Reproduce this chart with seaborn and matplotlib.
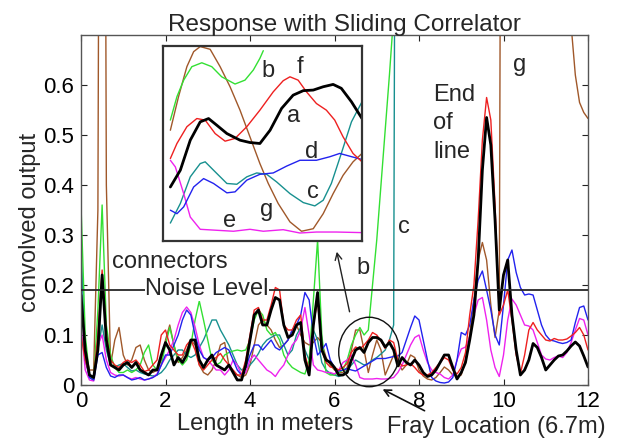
import matplotlib
matplotlib.use("Agg")
import matplotlib.pyplot as plt
import seaborn as sns
from matplotlib.patches import Ellipse

# ---------------- main chart data (convolved output vs length) ----------------
length_m = [round(0.1 * i, 1) for i in range(121)]

trace_a = [0.18, 0.07, 0.02, 0.015, 0.07, 0.22, 0.09, 0.04, 0.035, 0.03,
           0.04, 0.045, 0.035, 0.045, 0.03, 0.025, 0.02, 0.03, 0.03, 0.06,
           0.085, 0.07, 0.04, 0.055, 0.045, 0.06, 0.09, 0.09, 0.05, 0.035,
           0.05, 0.06, 0.04, 0.035, 0.03, 0.04, 0.025, 0.01, 0.01, 0.04,
           0.09, 0.14, 0.15, 0.12, 0.12, 0.15, 0.175, 0.17, 0.12, 0.095,
           0.1, 0.12, 0.125, 0.05, 0.02, 0.12, 0.185, 0.07, 0.05, 0.045,
           0.035, 0.02, 0.02, 0.025, 0.05, 0.07, 0.075, 0.065, 0.085, 0.095,
           0.095, 0.09, 0.076, 0.085, 0.07, 0.038, 0.055, 0.045, 0.04, 0.05,
           0.04, 0.025, 0.017, 0.02, 0.03, 0.045, 0.06, 0.06, 0.035, 0.012,
           0.025, 0.045, 0.09, 0.14, 0.25, 0.43, 0.535, 0.48, 0.33, 0.15,
           0.22, 0.25, 0.14, 0.07, 0.02, 0.03, 0.05, 0.083, 0.075, 0.055,
           0.03, 0.04, 0.05, 0.058, 0.06, 0.068, 0.078, 0.086, 0.078, 0.058,
           0.036]

trace_f = [0.1, 0.05, 0.02, 0.015, 0.1, 0.23, 0.1, 0.05, 0.04, 0.035,
           0.045, 0.05, 0.045, 0.05, 0.04, 0.027, 0.03, 0.04, 0.05, 0.1,
           0.11, 0.08, 0.07, 0.06, 0.06, 0.08, 0.09, 0.07, 0.04, 0.03,
           0.04, 0.05, 0.055, 0.063, 0.05, 0.04, 0.03, 0.02, 0.02, 0.05,
           0.1, 0.15, 0.155, 0.13, 0.13, 0.16, 0.195, 0.19, 0.12, 0.11,
           0.11, 0.13, 0.14, 0.06, 0.03, 0.12, 0.17, 0.07, 0.045, 0.036,
           0.035, 0.03, 0.035, 0.043, 0.065, 0.076, 0.072, 0.08, 0.09, 0.105,
           0.1, 0.088, 0.073, 0.09, 0.085, 0.05, 0.038, 0.04, 0.043, 0.035,
           0.025, 0.02, 0.02, 0.025, 0.035, 0.045, 0.055, 0.05, 0.03, 0.022,
           0.035, 0.065, 0.14, 0.2, 0.33, 0.49, 0.575, 0.53, 0.36, 0.14,
           0.16, 0.19, 0.13, 0.06, 0.023, 0.06, 0.11, 0.125, 0.11, 0.1,
           0.09, 0.088, 0.093, 0.09, 0.09, 0.092, 0.098, 0.105, 0.115, 0.1,
           0.07]

trace_d = [0.2, 0.05, 0.015, 0.01, 0.06, 0.065, 0.035, 0.018, 0.015, 0.02,
           0.02, 0.015, 0.01, 0.012, 0.015, 0.01, 0.012, 0.015, 0.02, 0.04,
           0.06, 0.06, 0.08, 0.1, 0.13, 0.15, 0.14, 0.1, 0.07, 0.055,
           0.05, 0.055, 0.065, 0.07, 0.075, 0.07, 0.05, 0.03, 0.02, 0.035,
           0.06, 0.08, 0.08, 0.07, 0.08, 0.09, 0.075, 0.07, 0.08, 0.09,
           0.11, 0.12, 0.14, 0.185, 0.17, 0.1, 0.06, 0.07, 0.083, 0.05,
           0.035, 0.028, 0.03, 0.033, 0.03, 0.028, 0.033, 0.038, 0.043, 0.048,
           0.053, 0.053, 0.053, 0.055, 0.057, 0.058, 0.065, 0.09, 0.115, 0.138,
           0.13, 0.09, 0.05, 0.015, 0.008, 0.005, 0.004, 0.006, 0.015, 0.05,
           0.105, 0.1, 0.12, 0.17, 0.21, 0.228, 0.19, 0.15, 0.1, 0.08,
           0.16, 0.25, 0.27, 0.225, 0.195, 0.18, 0.182, 0.18, 0.15, 0.12,
           0.1, 0.09, 0.088, 0.085, 0.083, 0.085, 0.09, 0.125, 0.155, 0.158,
           0.13]

trace_e = [0.12, 0.03, 0.01, 0.008, 0.08, 0.1, 0.05, 0.025, 0.02, 0.018,
           0.02, 0.015, 0.012, 0.015, 0.012, 0.01, 0.012, 0.015, 0.022, 0.04,
           0.055, 0.07, 0.09, 0.12, 0.145, 0.156, 0.145, 0.116, 0.08, 0.055,
           0.05, 0.04, 0.03, 0.03, 0.02, 0.03, 0.05, 0.04, 0.02, 0.025,
           0.05, 0.06, 0.05, 0.04, 0.03, 0.025, 0.017, 0.03, 0.04, 0.06,
           0.08, 0.09, 0.11, 0.155, 0.1, 0.04, 0.03, 0.028, 0.025, 0.025,
           0.022, 0.03, 0.045, 0.05, 0.06, 0.04, 0.015, 0.012, 0.012, 0.012,
           0.013, 0.012, 0.012, 0.013, 0.015, 0.025, 0.04, 0.06, 0.08, 0.095,
           0.1, 0.07, 0.045, 0.03, 0.025, 0.022, 0.015, 0.012, 0.02, 0.05,
           0.072, 0.076, 0.096, 0.14, 0.17, 0.175, 0.13, 0.07, 0.035, 0.017,
           0.06, 0.13, 0.172, 0.16, 0.14, 0.12, 0.118, 0.11, 0.085, 0.06,
           0.052, 0.05, 0.055, 0.058, 0.055, 0.065, 0.085, 0.11, 0.133, 0.13,
           0.1]

trace_c = [0.28, 0.06, 0.015, 0.01, 0.07, 0.12, 0.07, 0.04, 0.036, 0.04,
           0.043, 0.035, 0.028, 0.03, 0.025, 0.022, 0.02, 0.018, 0.02, 0.025,
           0.035, 0.05, 0.06, 0.07, 0.07, 0.06, 0.055, 0.06, 0.075, 0.09,
           0.11, 0.13, 0.13, 0.11, 0.095, 0.08, 0.06, 0.04, 0.03, 0.035,
           0.04, 0.05, 0.063, 0.08, 0.09, 0.095, 0.1, 0.1, 0.08, 0.06,
           0.07, 0.1, 0.115, 0.07, 0.05, 0.11, 0.09, 0.045, 0.03, 0.023,
           0.02, 0.017, 0.02, 0.03, 0.04, 0.05, 0.045, 0.04, 0.043, 0.05,
           0.055, 0.062, 0.07, 0.09, 0.12, 3.0, 3.0, 3.0, 3.0, 3.0,
           3.0, 3.0, 3.0, 3.0, 3.0, 3.0, 3.0, 3.0, 3.0, 3.0,
           3.0, 3.0, 3.0, 3.0, 3.0, 3.0, 3.0, 3.0, 3.0, 3.0,
           3.0, 3.0, 3.0, 3.0, 3.0, 3.0, 3.0, 3.0, 3.0, 3.0,
           3.0, 3.0, 3.0, 3.0, 3.0, 3.0, 3.0, 3.0, 3.0, 3.0,
           3.0]

trace_b = [0.36, 0.1, 0.02, 0.01, 0.15, 0.36, 0.12, 0.06, 0.035, 0.025,
           0.025, 0.03, 0.025, 0.03, 0.04, 0.065, 0.08, 0.04, 0.03, 0.04,
           0.08, 0.115, 0.08, 0.05, 0.04, 0.05, 0.08, 0.13, 0.168, 0.13,
           0.09, 0.05, 0.04, 0.045, 0.06, 0.065, 0.068, 0.07, 0.068, 0.07,
           0.09, 0.13, 0.15, 0.14, 0.11, 0.1, 0.105, 0.09, 0.06, 0.045,
           0.035, 0.03, 0.025, 0.022, 0.05, 0.17, 0.29, 0.1, 0.025, 0.02,
           0.02, 0.025, 0.03, 0.05, 0.08, 0.1, 0.115, 0.1, 0.11, 0.2,
           0.29, 0.4, 0.51, 0.62, 0.74, 3.0, 3.0, 3.0, 3.0, 3.0,
           3.0, 3.0, 3.0, 3.0, 3.0, 3.0, 3.0, 3.0, 3.0, 3.0,
           3.0, 3.0, 3.0, 3.0, 3.0, 3.0, 3.0, 3.0, 3.0, 3.0,
           3.0, 3.0, 3.0, 3.0, 3.0, 3.0, 3.0, 3.0, 3.0, 3.0,
           3.0, 3.0, 3.0, 3.0, 3.0, 3.0, 3.0, 3.0, 3.0, 3.0,
           3.0]

trace_g = [0.1, 0.065, 0.03, 0.03, 0.35, 3.0, 0.4, 0.04, 0.09, 0.115,
           0.06, 0.04, 0.05, 0.075, 0.08, 0.05, 0.03, 0.025, 0.03, 0.05,
           0.09, 0.12, 0.08, 0.045, 0.055, 0.07, 0.09, 0.08, 0.04, 0.025,
           0.02, 0.03, 0.05, 0.08, 0.085, 0.04, 0.025, 0.02, 0.015, 0.02,
           0.04, 0.08, 0.12, 0.13, 0.12, 0.11, 0.09, 0.075, 0.08, 0.09,
           0.11, 0.12, 0.1, 0.085, 0.08, 0.085, 0.095, 0.085, 0.055, 0.04,
           0.03, 0.025, 0.025, 0.035, 0.07, 0.11, 0.11, 0.07, 0.025, 0.06,
           0.09, 0.07, 0.02, 0.04, 0.06, 0.045, 0.03, 0.04, 0.06, 0.055,
           0.03, 0.018, 0.012, 0.01, 0.015, 0.025, 0.036, 0.03, 0.02, 0.017,
           0.02, 0.05, 0.1, 0.17, 0.25, 0.285, 0.25, 0.16, 0.095, 0.15,
           3.0, 3.0, 3.0, 3.0, 3.0, 3.0, 3.0, 3.0, 3.0, 3.0,
           3.0, 3.0, 3.0, 3.0, 3.0, 3.0, 0.72, 0.62, 0.565, 0.545,
           0.533]

noise_level = 0.19
x_ticks = [0, 2, 4, 6, 8, 10, 12]
y_ticks = [0, 0.1, 0.2, 0.3, 0.4, 0.5, 0.6]
y_tick_labels = ["0", "0.1", "0.2", "0.3", "0.4", "0.5", "0.6"]

# ---------------- inset data (zoom of the fray region, relative units) ----------------
in_b_x = [3.7, 7.0, 10.4, 14.5, 19.5, 24.5, 29.5, 36.2, 41.2, 45.4, 48.7, 50.4]
in_b_y = [62.0, 74.0, 82.5, 89.4, 91.4, 89.4, 84.2, 80.5, 82.5, 87.7, 93.7, 97.6]
in_g_x = [3.7, 7.8, 12.0, 15.4, 18.7, 23.7, 28.7, 33.7, 38.7, 43.7, 48.7, 52.9,
          57.9, 63.8, 69.6, 75.5, 80.5, 85.5, 90.5, 95.5, 100]
in_g_y = [56.8, 74.0, 89.4, 97.1, 99.7, 98.3, 89.4, 79.1, 67.1, 53.4, 39.7, 29.5,
          19.2, 9.8, 5.0, 6.3, 14.0, 24.3, 33.7, 40.6, 44.9]
in_f_x = [3.7, 7.0, 12.0, 17.0, 21.2, 26.2, 31.2, 36.2, 42.1, 48.7, 55.4, 60.4,
          63.8, 67.9, 72.1, 77.1, 82.1, 86.3, 90.5, 95.5, 100]
in_f_y = [42.3, 50.0, 58.6, 62.8, 62.0, 55.1, 51.2, 52.6, 58.6, 67.1, 76.5, 82.2,
          84.2, 82.5, 76.5, 70.5, 67.1, 62.0, 53.4, 44.9, 40.6]
in_a_x = [3.7, 8.7, 13.7, 18.7, 22.9, 27.0, 32.1, 38.7, 43.7, 48.7, 53.8, 59.6,
          65.4, 70.5, 75.5, 80.5, 85.5, 89.6, 94.7, 100]
in_a_y = [27.7, 36.3, 51.7, 61.1, 62.8, 59.4, 55.1, 51.7, 50.5, 50.0, 56.8, 68.0,
          74.8, 77.1, 77.4, 79.1, 80.3, 78.3, 71.4, 62.8]
in_c_x = [3.7, 8.7, 13.7, 18.7, 21.2, 25.4, 32.1, 37.1, 42.1, 47.1, 52.1, 57.1,
          63.8, 70.5, 76.3, 80.5, 84.6, 89.6, 94.7, 100]
in_c_y = [9.2, 19.2, 32.9, 39.7, 40.6, 36.3, 29.5, 29.1, 32.9, 34.9, 34.2, 30.3,
          24.3, 19.7, 18.0, 20.9, 29.5, 44.9, 61.1, 71.4]
in_d_x = [3.7, 7.0, 10.4, 15.4, 20.4, 25.4, 32.1, 36.2, 42.1, 48.7, 55.4, 62.1,
          68.8, 77.1, 83.8, 88.8, 93.8, 100]
in_d_y = [15.8, 14.0, 17.5, 27.7, 32.0, 29.5, 24.7, 25.2, 31.2, 34.2, 34.9, 38.4,
          41.4, 41.4, 43.2, 44.9, 43.5, 41.8]
in_e_x = [3.7, 6.2, 10.4, 13.7, 18.7, 27.0, 35.4, 43.7, 50.4, 60.4, 68.8, 77.1, 87.1, 100]
in_e_y = [41.4, 38.0, 24.3, 12.3, 6.0, 5.5, 5.0, 6.0, 5.0, 5.8, 4.1, 4.6, 4.6, 4.3]

# ---------------- styles ----------------
colors = {"a": "#000000", "b": "#33e033", "c": "#17908f", "d": "#2222ee",
          "e": "#ee22ee", "f": "#ee2020", "g": "#a0582a"}
widths = {"a": 2.0, "b": 1.0, "c": 1.0, "d": 1.0, "e": 1.0, "f": 1.0, "g": 1.0}
main_series = {"g": trace_g, "c": trace_c, "b": trace_b, "e": trace_e,
               "d": trace_d, "f": trace_f, "a": trace_a}
inset_series = {"g": (in_g_x, in_g_y), "c": (in_c_x, in_c_y), "b": (in_b_x, in_b_y),
                "e": (in_e_x, in_e_y), "d": (in_d_x, in_d_y), "f": (in_f_x, in_f_y),
                "a": (in_a_x, in_a_y)}

sns.set_theme(style="white")
plt.rcParams["font.family"] = ["Liberation Sans", "DejaVu Sans"]

W, H = 620, 440
fig = plt.figure(figsize=(6.2, 4.4), dpi=100)
ax = fig.add_axes([81 / W, 55 / H, 507 / W, 350 / H])

for key, vals in main_series.items():
    sns.lineplot(x=length_m, y=vals, color=colors[key], linewidth=widths[key],
                 ax=ax, estimator=None, sort=False)

ax.axhline(noise_level, color="#262626", linewidth=1.3, zorder=3)

ax.set_xlim(0, 12)
ax.set_ylim(0, 0.7)
ax.set_xticks(x_ticks)
ax.set_xticklabels([str(t) for t in x_ticks])
ax.set_yticks(y_ticks)
ax.set_yticklabels(y_tick_labels)
ax.tick_params(direction="in", top=True, right=True, bottom=True, left=True,
               length=4, width=0.8, labelsize=16, colors="#222222", labelcolor="black")
ax.tick_params(axis="x", pad=4)
ax.tick_params(axis="y", pad=5)
for sp in ax.spines.values():
    sp.set_color("#555555")
    sp.set_linewidth(1.0)
ax.set_xlabel("")
ax.set_ylabel("")

fs = 17
# annotations inside the plot
ax.text(0.73, 0.235, "connectors", fontsize=fs, ha="left", va="baseline")
ax.text(1.52, 0.18, "Noise Level", fontsize=fs, ha="left", va="baseline", zorder=4,
        bbox=dict(facecolor="white", edgecolor="none", pad=0.5))
ax.text(6.53, 0.223, "b", fontsize=fs, ha="left", va="baseline")
ax.text(7.50, 0.304, "c", fontsize=fs, ha="left", va="baseline")
ax.text(10.22, 0.628, "g", fontsize=fs, ha="left", va="baseline")
ax.text(8.33, 0.568, "End", fontsize=fs, ha="left", va="baseline")
ax.text(8.33, 0.512, "of", fontsize=fs, ha="left", va="baseline")
ax.text(8.33, 0.454, "line", fontsize=fs, ha="left", va="baseline")

ax.add_patch(Ellipse((6.82, 0.066), 1.44, 0.139, fill=False, edgecolor="#111111",
                     linewidth=1.0, clip_on=False, zorder=5))
ax.annotate("", xy=(6.04, 0.272), xytext=(6.37, 0.141),
            arrowprops=dict(arrowstyle="->", color="#222222", lw=1.0), zorder=5)
ax.annotate("", xy=(7.08, -0.006), xytext=(8.19, -0.054),
            arrowprops=dict(arrowstyle="->", color="#111111", lw=1.2),
            annotation_clip=False, zorder=5)
ax.text(7.24, -0.096, "Fray Location (6.7m)", fontsize=fs, ha="left", va="baseline",
        clip_on=False)

fig.text(344 / W, 1 - 31 / H, "Response with Sliding Correlator", fontsize=17.5,
         ha="center", va="baseline")
fig.text(265 / W, 1 - 430 / H, "Length in meters", fontsize=fs, ha="center", va="baseline")
fig.text(30 / W, 1 - 222 / H, "convolved output", fontsize=fs, ha="center", va="center",
         rotation=90)

# ---------------- inset ----------------
axi = fig.add_axes([163 / W, (H - 241) / H, 199 / W, 195 / H])
axi.set_facecolor("white")
for key, (ux, uy) in inset_series.items():
    sns.lineplot(x=ux, y=uy, color=colors[key], linewidth=2.0 if key == "a" else 1.0,
                 ax=axi, estimator=None, sort=False)
axi.set_xlim(0, 100)
axi.set_ylim(0, 100)
axi.set_xticks([])
axi.set_yticks([])
axi.set_xlabel("")
axi.set_ylabel("")
for sp in axi.spines.values():
    sp.set_color("#333333")
    sp.set_linewidth(1.6)

inset_labels = [("b", 49.7, 84.1), ("f", 67.3, 86.1), ("a", 62.3, 61.0),
                ("d", 71.3, 42.5), ("c", 72.3, 21.9), ("g", 48.7, 12.7),
                ("e", 30.2, 7.0)]
for lab, lx, ly in inset_labels:
    axi.text(lx, ly, lab, fontsize=fs, ha="left", va="baseline")

fig.savefig("out.png", dpi=100)
